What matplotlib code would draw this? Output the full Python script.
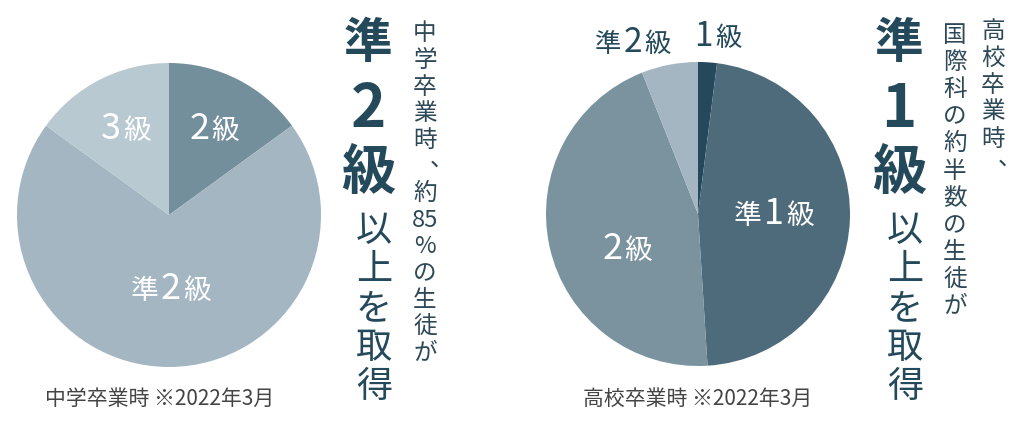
import matplotlib
matplotlib.use("Agg")
import matplotlib.pyplot as plt
from matplotlib.offsetbox import TextArea, HPacker, AnnotationBbox

plt.rcParams['font.family'] = ['Noto Sans CJK JP', 'DejaVu Sans']

# ---- data -------------------------------------------------------------
jhs_grades = ["2級", "準2級", "3級"]
jhs_shares = [15, 70, 15]
jhs_colors = ["#748f9c", "#a3b6c1", "#b8c9d1"]

hs_grades = ["1級", "準1級", "2級", "準2級"]
hs_shares = [2, 47, 45, 6]
hs_colors = ["#25495a", "#4e6b7b", "#7a939f", "#a3b6c1"]

jhs_note = "中学卒業時 ※2022年3月"
hs_note = "高校卒業時 ※2022年3月"

jhs_lead = ["中", "学", "卒", "業", "時", "、", "約", "85", "%", "の", "生", "徒", "が"]
hs_lead1 = ["高", "校", "卒", "業", "時", "、"]
hs_lead2 = ["国", "際", "科", "の", "約", "半", "数", "の", "生", "徒", "が"]
jhs_head = ["準", "2", "級"]
hs_head = ["準", "1", "級"]
tail = ["以", "上", "を", "取", "得"]

# ---- layout -----------------------------------------------------------
W, H = 1024, 421
INK = "#23495b"
TXT = "#2d4856"

fig = plt.figure(figsize=(W / 100, H / 100), dpi=100)
fig.patch.set_facecolor("white")

R = 152
BOX = 170


def pie_axes(cx, cy):
    return fig.add_axes([(cx - BOX) / W, (H - cy - BOX) / H, 2 * BOX / W, 2 * BOX / H])


def finish_pie_axes(ax):
    ax.set_xlim(-BOX, BOX)
    ax.set_ylim(-BOX, BOX)
    ax.set_aspect("equal")
    ax.axis("off")


def grade_label(ax, text, xy, color, dsize, ksize):
    parts = []
    for ch in text:
        size = dsize if ch.isdigit() else ksize
        parts.append(TextArea(ch, textprops=dict(color=color, fontsize=size)))
    box = HPacker(children=parts, align="baseline", pad=0, sep=1.5)
    ab = AnnotationBbox(box, xy, xycoords="data", frameon=False,
                        box_alignment=(0.5, 0.5), pad=0, annotation_clip=False)
    ax.add_artist(ab)


# Junior high school pie
ax1 = pie_axes(169, 215)
ax1.pie(jhs_shares, colors=jhs_colors, radius=R, startangle=90,
        counterclock=False, wedgeprops=dict(linewidth=0))
finish_pie_axes(ax1)
jhs_label_xy = [(45, 86), (2, -74), (-43, 86)]
for g, xy in zip(jhs_grades, jhs_label_xy):
    grade_label(ax1, g, xy, "white", 26, 20)

# Senior high school pie
ax2 = pie_axes(698, 214)
ax2.pie(hs_shares, colors=hs_colors, radius=R, startangle=90,
        counterclock=False, wedgeprops=dict(linewidth=0))
finish_pie_axes(ax2)
hs_label_xy = [(20, 177), (76, 0), (-71, -35), (-65, 171)]
hs_label_col = [INK, "white", "white", INK]
hs_label_in = [False, True, True, False]
for g, xy, c, inside in zip(hs_grades, hs_label_xy, hs_label_col, hs_label_in):
    if inside:
        grade_label(ax2, g, xy, c, 26, 20)
    else:
        grade_label(ax2, g, xy, c, 24, 19)

# Overlay for the vertical captions and notes (pixel coordinates)
ov = fig.add_axes([0, 0, 1, 1])
ov.set_xlim(0, W)
ov.set_ylim(H, 0)
ov.axis("off")
ov.patch.set_alpha(0)


def vcolumn(x, y0, step, tokens, size, color, weight="normal"):
    for i, t in enumerate(tokens):
        y = y0 + i * step
        if t == "、":
            # vertical-writing comma sits to the right of the column
            ov.text(x + 5, y - 1, t, fontsize=size, color=color, weight=weight,
                    ha="left", va="baseline")
        else:
            ov.text(x, y, t, fontsize=size, color=color, weight=weight,
                    ha="center", va="center")


def headline(x, head):
    sizes = [35, 43, 39]
    ys = [44, 110, 173]
    for t, s, y in zip(head, sizes, ys):
        ov.text(x, y, t, fontsize=s, color=INK, weight="bold",
                ha="center", va="center")
    vcolumn(x + 6, 231, 39, tail, 26, INK)


headline(368, jhs_head)
vcolumn(425, 34, 26.6, jhs_lead, 17, TXT)

headline(899, hs_head)
vcolumn(993, 31, 27, hs_lead1, 17, TXT)
vcolumn(955, 35, 27.2, hs_lead2, 17, TXT)

ov.text(45, 399, jhs_note, fontsize=15, color="#444444", ha="left", va="center")
ov.text(583, 399, hs_note, fontsize=15, color="#444444", ha="left", va="center")

fig.savefig("out.png", dpi=100, facecolor="white")
